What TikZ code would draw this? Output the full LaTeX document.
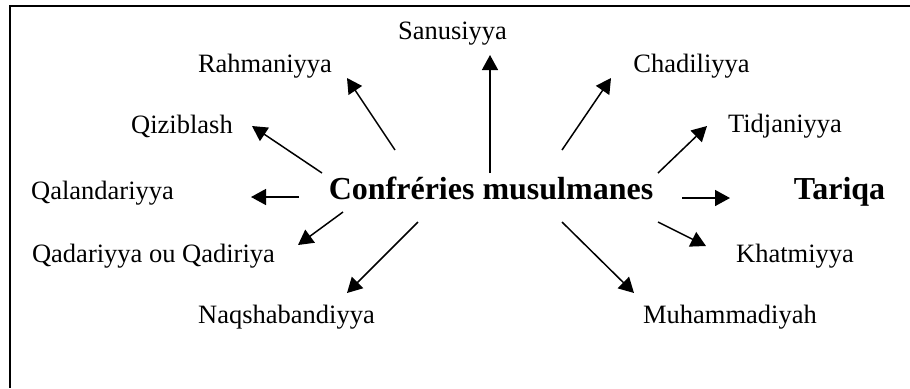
\documentclass[tikz,border=0pt]{standalone}
\usepackage{fontspec}
\setmainfont{Liberation Serif}
\usetikzlibrary{arrows.meta}
\tikzset{
  lbl/.style={anchor=base,inner sep=0pt,font=\fontsize{13.25}{16}\selectfont},
  main/.style={anchor=base,inner sep=0pt,font=\fontsize{16}{19}\selectfont\bfseries},
  arr/.style={line width=0.75pt,-{Triangle[length=7.5pt,width=8pt]}},
  frame/.style={line width=1pt}
}
\begin{document}
\begin{tikzpicture}[x=0.5pt,y=-0.5pt]
\useasboundingbox (0,0) rectangle (910,388);
\draw[frame] (910,6) -- (10,6) -- (10,388);
% nodes
\node[main] (conf) at (491,199) {Confréries musulmanes};
\node[main] (tariqa) at (839.5,199) {Tariqa};
\node[lbl] (sanu) at (452.5,39) {Sanusiyya};
\node[lbl] (rahm) at (265,72) {Rahmaniyya};
\node[lbl] (chad) at (691.5,72) {Chadiliyya};
\node[lbl] (qizi) at (182,133) {Qiziblash};
\node[lbl] (tidj) at (785,132) {Tidjaniyya};
\node[lbl] (qala) at (102.5,199) {Qalandariyya};
\node[lbl] (qada) at (153.5,262) {Qadariyya ou Qadiriya};
\node[lbl] (khat) at (795,262) {Khatmiyya};
\node[lbl] (naqs) at (286.5,323) {Naqshabandiyya};
\node[lbl] (muha) at (730,323) {Muhammadiyah};
% arrow end points
\coordinate (s-rahm) at (395,150);  \coordinate (e-rahm) at (347,78);
\coordinate (s-qizi) at (322,173);  \coordinate (e-qizi) at (252,126);
\coordinate (s-qala) at (299,197);  \coordinate (e-qala) at (251,197);
\coordinate (s-qada) at (343,212);  \coordinate (e-qada) at (298,245);
\coordinate (s-naqs) at (418,222);  \coordinate (e-naqs) at (347,293);
\coordinate (s-sanu) at (490,173);  \coordinate (e-sanu) at (490,55);
\coordinate (s-chad) at (562,150);  \coordinate (e-chad) at (611,78);
\coordinate (s-tidj) at (658,173);  \coordinate (e-tidj) at (707,126);
\coordinate (s-tari) at (682,198);  \coordinate (e-tari) at (730,198);
\coordinate (s-khat) at (658,222);  \coordinate (e-khat) at (706,246);
\coordinate (s-muha) at (562,222);  \coordinate (e-muha) at (634,293);
\foreach \n in {rahm,qizi,qala,qada,naqs,sanu,chad,tidj,tari,khat,muha}
  \draw[arr] (s-\n) -- (e-\n);
\end{tikzpicture}
\end{document}
